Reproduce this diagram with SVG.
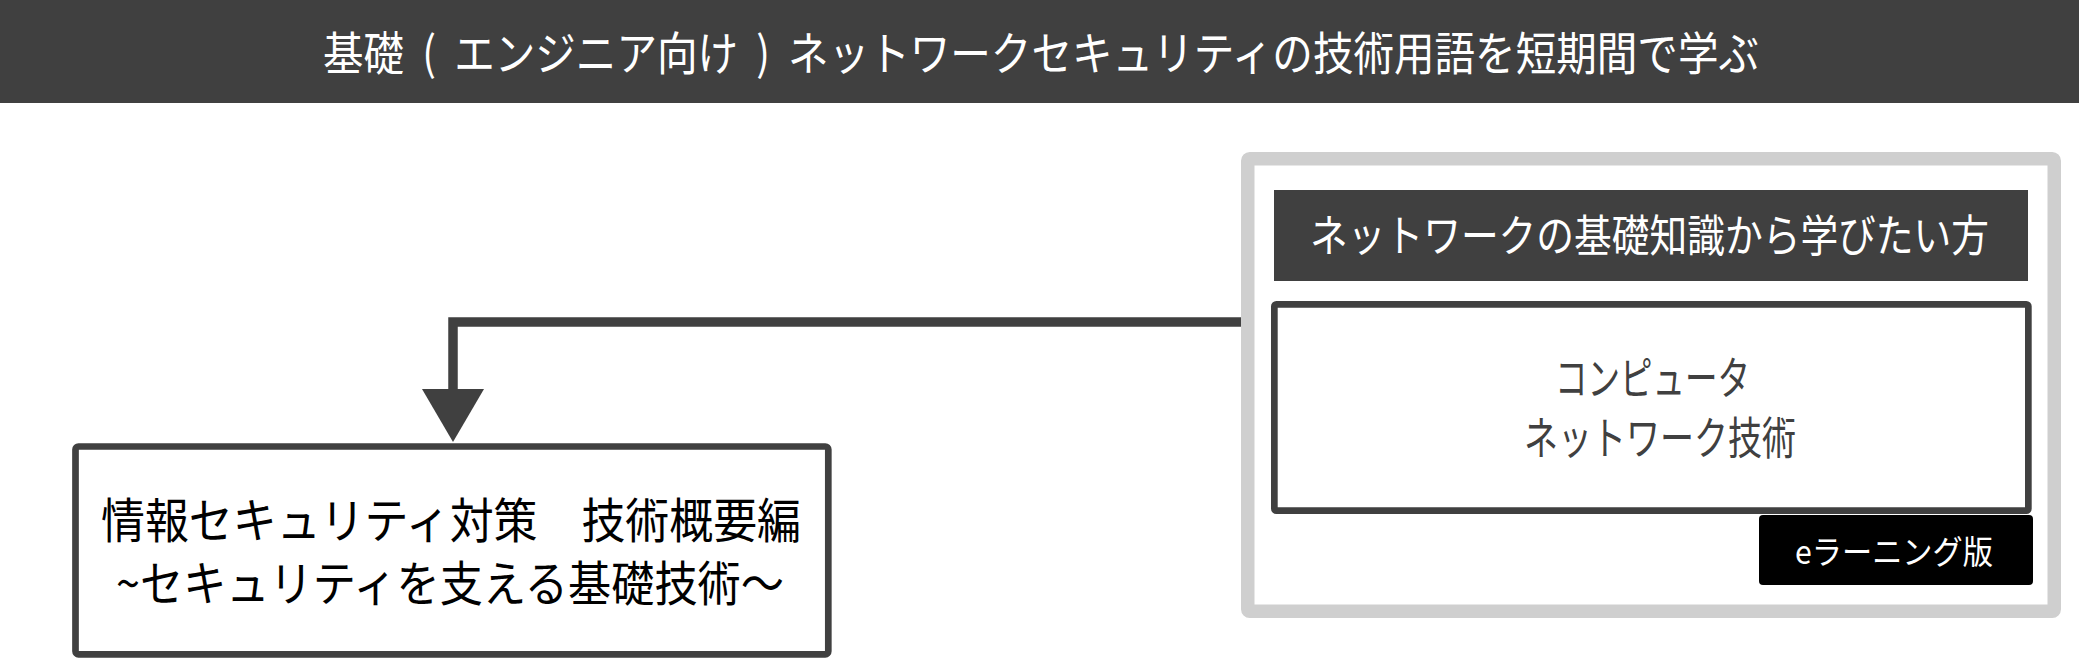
<svg xmlns="http://www.w3.org/2000/svg" width="2079" height="658" viewBox="0 0 2079 658">
  <style>
    .jp { font-family: "Noto Sans CJK JP", "Noto Sans", sans-serif; }
    .white { fill: #ffffff; }
    .dark { fill: #404040; }
    .black { fill: #000000; }
    .conn { fill: none; stroke: #404040; stroke-width: 9.5; stroke-linejoin: miter; }
  </style>
  <defs>
    <marker id="arrow" markerUnits="userSpaceOnUse" viewBox="0 0 53 62" markerWidth="53" markerHeight="62" refX="0" refY="31" orient="auto">
      <path d="M0,0 L53,31 L0,62 Z" fill="#404040"/>
    </marker>
  </defs>
  <rect x="0" y="0" width="2079" height="658" fill="#ffffff"/>

  <g id="title">
    <rect x="0" y="0" width="2079" height="103" fill="#404040"/>
    <text class="jp white" x="323" y="70" font-size="46" textLength="1436" lengthAdjust="spacingAndGlyphs" xml:space="preserve">基礎  (  エンジニア向け  )  ネットワークセキュリティの技術用語を短期間で学ぶ</text>
  </g>

  <g id="connectors">
    <path class="conn" d="M1248,322 H453 V389" marker-end="url(#arrow)"/>
  </g>

  <g id="node-security">
    <rect x="75.5" y="446.5" width="752.8" height="207.8" rx="3" fill="#ffffff" stroke="#404040" stroke-width="6.7"/>
    <text class="jp black" x="101" y="538" font-size="48" textLength="700" lengthAdjust="spacingAndGlyphs">情報セキュリティ対策　技術概要編</text>
    <text class="jp black" x="116" y="601" font-size="48" textLength="668" lengthAdjust="spacingAndGlyphs">~セキュリティを支える基礎技術～</text>
  </g>

  <g id="group-network">
    <rect x="1247.75" y="158.75" width="806.5" height="452.5" rx="2" fill="#ffffff" stroke="#cfcfcf" stroke-width="13.5"/>
  </g>

  <g id="node-network-header">
    <rect x="1274" y="190" width="754" height="91" fill="#404040"/>
    <text class="jp white" x="1310" y="252" font-size="44" textLength="679" lengthAdjust="spacingAndGlyphs">ネットワークの基礎知識から学びたい方</text>
  </g>

  <g id="node-computer-network">
    <rect x="1274.35" y="304.35" width="754" height="206.3" rx="2" fill="#ffffff" stroke="#404040" stroke-width="6.7"/>
    <text class="jp dark" x="1555" y="395" font-size="45" textLength="195" lengthAdjust="spacingAndGlyphs">コンピュータ</text>
    <text class="jp dark" x="1524" y="455" font-size="45" textLength="272" lengthAdjust="spacingAndGlyphs">ネットワーク技術</text>
  </g>

  <g id="node-elearning">
    <rect x="1759" y="515" width="274" height="70" rx="4" fill="#000000"/>
    <text class="jp white" x="1795" y="564" font-size="33" textLength="198" lengthAdjust="spacingAndGlyphs">eラーニング版</text>
  </g>
</svg>
